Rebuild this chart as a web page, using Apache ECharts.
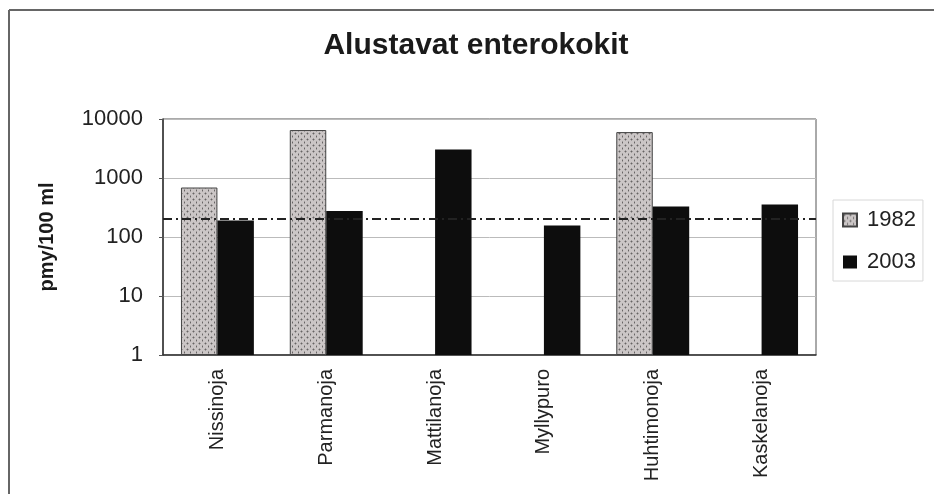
<!DOCTYPE html>
<html>
<head>
<meta charset="utf-8">
<script src="https://cdn.jsdelivr.net/npm/echarts@6/dist/echarts.min.js"></script>
<style>
html,body{margin:0;padding:0;background:#fff;}
#chart{width:934px;height:494px;}
</style>
</head>
<body>
<div id="chart"></div>
<script>
const categories = ['Nissinoja', 'Parmanoja', 'Mattilanoja', 'Myllypuro', 'Huhtimonoja', 'Kaskelanoja'];
const values1982 = [690, 6500, null, null, 6000, null];
const values2003 = [190, 275, 3050, 157, 330, 355];
const seriesNames = ['1982', '2003'];
const limitValue = 200;
const yTicks = [1, 10, 100, 1000, 10000];

function makePattern() {
  const c = document.createElement('canvas');
  c.width = 6; c.height = 6;
  const ctx = c.getContext('2d');
  ctx.fillStyle = '#cbc6c6';
  ctx.fillRect(0, 0, 6, 6);
  ctx.fillStyle = '#666363';
  ctx.fillRect(1, 1, 1, 1);
  ctx.fillRect(4, 4, 1, 1);
  ctx.fillStyle = '#9f9b9b';
  ctx.fillRect(0, 1, 1, 1);
  ctx.fillRect(2, 1, 1, 1);
  ctx.fillRect(1, 0, 1, 1);
  ctx.fillRect(1, 2, 1, 1);
  ctx.fillRect(4, 3, 1, 1);
  ctx.fillRect(4, 5, 1, 1);
  return c;
}
const pattern = { image: makePattern(), repeat: 'repeat' };

const chart = echarts.init(document.getElementById('chart'), null, { renderer: 'canvas' });
const font = 'Liberation Sans, Arial, sans-serif';
chart.setOption({
  backgroundColor: '#fff',
  animation: false,
  textStyle: { fontFamily: font },
  title: {
    text: 'Alustavat enterokokit',
    left: 471, top: 26, textAlign: 'center',
    textStyle: { fontFamily: font, fontSize: 30, fontWeight: 'bold', color: '#1a1a1a' }
  },
  graphic: [
    { type: 'line', shape: { x1: 9, y1: 10, x2: 934, y2: 10 }, style: { stroke: '#666', lineWidth: 2 } },
    { type: 'line', shape: { x1: 9, y1: 10, x2: 9, y2: 494 }, style: { stroke: '#666', lineWidth: 2 } }
  ],
  legend: {
    orient: 'vertical',
    left: 833, top: 200,
    data: seriesNames,
    itemWidth: 14, itemHeight: 13, itemGap: 20,
    padding: [9, 7, 8, 9],
    borderColor: '#d8d8d8', borderWidth: 1,
    textStyle: { fontFamily: font, fontSize: 22, color: '#222', padding: [0, 0, 0, 5] },
    icon: 'rect'
  },
  grid: {
    left: 163, right: 118, top: 119, bottom: 139,
    show: true, borderColor: '#555', borderWidth: 1
  },
  xAxis: {
    type: 'category',
    data: categories,
    axisLine: { lineStyle: { color: '#333', width: 1.5 } },
    axisTick: { show: false },
    axisLabel: { rotate: 90, margin: 14, fontSize: 20, color: '#222', fontFamily: font }
  },
  yAxis: {
    type: 'log', logBase: 10, min: 1, max: 10000,
    name: 'pmy/100 ml', nameLocation: 'middle', nameGap: 106, nameRotate: 90,
    nameTextStyle: { fontFamily: font, fontSize: 20, fontWeight: 'bold', color: '#1a1a1a' },
    axisLine: { show: true, lineStyle: { color: '#333', width: 1.5 } },
    axisTick: { show: true, length: 4, lineStyle: { color: '#555' } },
    axisLabel: { fontSize: 22, color: '#222', margin: 20, fontFamily: font,
      formatter: v => yTicks.indexOf(Math.round(v)) >= 0 ? String(Math.round(v)) : '' },
    splitLine: { show: true, lineStyle: { color: '#bbb', width: 1 } },
    minorTick: { show: false }
  },
  series: [
    {
      name: seriesNames[0], type: 'bar', data: values1982,
      barGap: '0%', barCategoryGap: '33%',
      itemStyle: { color: pattern, borderColor: '#444', borderWidth: 1 },
      markLine: {
        silent: true, symbol: 'none', label: { show: false },
        lineStyle: { color: '#222', width: 2, type: [9, 4, 2, 4] },
        data: [{ yAxis: limitValue }]
      },
      z: 2
    },
    {
      name: seriesNames[1], type: 'bar', data: values2003,
      barGap: '0%', barCategoryGap: '33%',
      itemStyle: { color: '#0d0d0d' },
      z: 3
    }
  ]
});
</script>
</body>
</html>
